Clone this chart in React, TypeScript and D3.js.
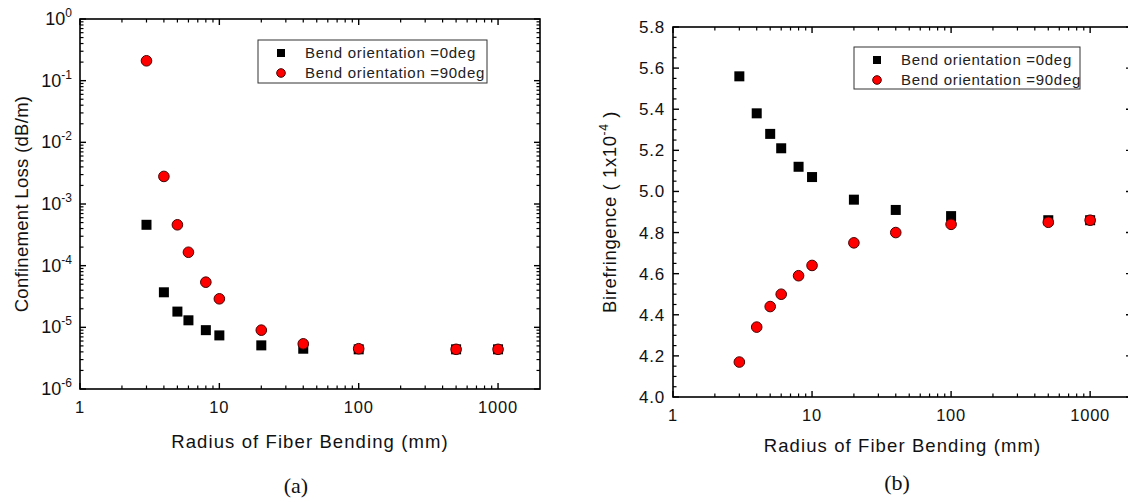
import React from 'react';
import * as d3 from 'd3';

// bend radius (mm), shared by both panels
const radius = [3, 4, 5, 6, 8, 10, 20, 40, 100, 500, 1000];
// (a) confinement loss, dB/m
const lossDeg0 = [4.6e-4, 3.7e-5, 1.8e-5, 1.3e-5, 9.0e-6, 7.4e-6, 5.1e-6, 4.5e-6, 4.4e-6, 4.4e-6, 4.4e-6];
const lossDeg90 = [0.21, 2.8e-3, 4.6e-4, 1.65e-4, 5.4e-5, 2.9e-5, 9.0e-6, 5.4e-6, 4.5e-6, 4.4e-6, 4.4e-6];
// (b) birefringence, 1x10^-4
const biDeg0 = [5.56, 5.38, 5.28, 5.21, 5.12, 5.07, 4.96, 4.91, 4.88, 4.86, 4.86];
const biDeg90 = [4.17, 4.34, 4.44, 4.5, 4.59, 4.64, 4.75, 4.8, 4.84, 4.85, 4.86];

const xTicks = [1, 10, 100, 1000];
const lossExps = [0, -1, -2, -3, -4, -5, -6];
const biTicks = [4.0, 4.2, 4.4, 4.6, 4.8, 5.0, 5.2, 5.4, 5.6, 5.8];
const legendLabels = ['Bend orientation =0deg', 'Bend orientation =90deg'];

const SANS = '"Liberation Sans", Arial, sans-serif';
const SERIF = '"Liberation Serif", "Times New Roman", serif';

// minor ticks on a log axis: 2..9 times each decade
const logMinors = (lo: number, hi: number) => {
  const out: number[] = [];
  for (let e = Math.floor(Math.log10(lo)); e < Math.ceil(Math.log10(hi)); e++) {
    for (let k = 2; k <= 9; k++) {
      const v = k * Math.pow(10, e);
      if (v > lo && v < hi) out.push(v);
    }
  }
  return out;
};

const Square = ({ x, y, s }: { x: number; y: number; s: number }) => (
  <rect x={x - s / 2} y={y - s / 2} width={s} height={s} fill="#000" />
);
const Dot = ({ x, y, r }: { x: number; y: number; r: number }) => (
  <circle cx={x} cy={y} r={r} fill="#ff0000" stroke="#4a0000" strokeWidth={1} />
);

type PanelProps = {
  x0: number; x1: number; y0: number; y1: number;
  y: any; logY: boolean;
  d0: number[]; d90: number[];
  legend: { x: number; y: number; w: number; h: number };
  yTitle: React.ReactNode; yTitleX: number; yTitleSpacing: number;
  letter: string; letterX: number; letterY: number; xTitleY: number;
};

const Panel = (p: PanelProps) => {
  const x = d3.scaleLog().domain([1, 2000]).range([p.x0, p.x1]);
  const xMin = logMinors(1, 2000);
  const yMajor = p.logY ? lossExps.map((e) => Math.pow(10, e)) : biTicks;
  const yMinor = p.logY
    ? logMinors(1e-6, 1)
    : d3.range(4.05, 5.8, 0.05).filter((v) => Math.abs(v * 5 - Math.round(v * 5)) > 0.01);
  const L = 6, l = 3.5;
  return (
    <g>
      {/* frame */}
      <rect x={p.x0} y={p.y1} width={p.x1 - p.x0} height={p.y0 - p.y1} fill="none" stroke="#000" strokeWidth={1.6} />
      {/* x ticks top and bottom */}
      {xTicks.map((t) => (
        <g key={'xt' + t}>
          <line x1={x(t)} x2={x(t)} y1={p.y0} y2={p.y0 - L} stroke="#000" strokeWidth={1.4} />
          <line x1={x(t)} x2={x(t)} y1={p.y1} y2={p.y1 + L} stroke="#000" strokeWidth={1.4} />
          <text x={x(t)} y={p.y0 + 24} textAnchor="middle" fontFamily={SANS} fontSize={16.5} letterSpacing={0.8} fill="#111">{t}</text>
        </g>
      ))}
      {xMin.map((t) => (
        <g key={'xm' + t}>
          <line x1={x(t)} x2={x(t)} y1={p.y0} y2={p.y0 - l} stroke="#000" strokeWidth={1.2} />
          <line x1={x(t)} x2={x(t)} y1={p.y1} y2={p.y1 + l} stroke="#000" strokeWidth={1.2} />
        </g>
      ))}
      {/* y ticks left and right */}
      {yMajor.map((t, i) => (
        <g key={'yt' + i}>
          <line x1={p.x0} x2={p.x0 + L} y1={p.y(t)} y2={p.y(t)} stroke="#000" strokeWidth={1.4} />
          <line x1={p.x1} x2={p.x1 - L} y1={p.y(t)} y2={p.y(t)} stroke="#000" strokeWidth={1.4} />
          {p.logY ? (
            <text x={p.x0 - 8} y={p.y(t) + 6} textAnchor="end" fontFamily={SANS} fontSize={18} fill="#111">
              10<tspan dy={-8} fontSize={12}>{lossExps[i]}</tspan>
            </text>
          ) : (
            <text x={p.x0 - 8} y={p.y(t) + 6} textAnchor="end" fontFamily={SANS} fontSize={17} letterSpacing={0.8} fill="#111">
              {t.toFixed(1)}
            </text>
          )}
        </g>
      ))}
      {yMinor.map((t, i) => (
        <g key={'ym' + i}>
          <line x1={p.x0} x2={p.x0 + l} y1={p.y(t)} y2={p.y(t)} stroke="#000" strokeWidth={1.2} />
          <line x1={p.x1} x2={p.x1 - l} y1={p.y(t)} y2={p.y(t)} stroke="#000" strokeWidth={1.2} />
        </g>
      ))}
      {/* data */}
      {radius.map((r, i) => <Square key={'s' + i} x={x(r)} y={p.y(p.d0[i])} s={10} />)}
      {radius.map((r, i) => <Dot key={'c' + i} x={x(r)} y={p.y(p.d90[i])} r={5.3} />)}
      {/* legend */}
      <rect x={p.legend.x} y={p.legend.y} width={p.legend.w} height={p.legend.h} fill="#fff" stroke="#333" strokeWidth={1} />
      {legendLabels.map((lab, i) => {
        const ly = p.legend.y + 13 + i * 20;
        return (
          <g key={lab}>
            {i === 0 ? <Square x={p.legend.x + 23} y={ly} s={8} /> : <Dot x={p.legend.x + 23} y={ly} r={4.3} />}
            <text x={p.legend.x + 47} y={ly + 5} fontFamily={SANS} fontSize={15} letterSpacing={0.7} fill="#222">{lab}</text>
          </g>
        );
      })}
      {/* titles */}
      <text x={(p.x0 + p.x1) / 2} y={p.xTitleY} textAnchor="middle" fontFamily={SANS} fontSize={18.5} letterSpacing={1.1} fill="#111">
        Radius of Fiber Bending (mm)
      </text>
      <text transform={`translate(${p.yTitleX},${(p.y0 + p.y1) / 2}) rotate(-90)`} textAnchor="middle" fontFamily={SANS} fontSize={18.5} letterSpacing={p.yTitleSpacing} fill="#111">
        {p.yTitle}
      </text>
      <text x={p.letterX} y={p.letterY} textAnchor="middle" fontFamily={SERIF} fontSize={22} fill="#111">{p.letter}</text>
    </g>
  );
};

export default function App() {
  const yLoss = d3.scaleLog().domain([1e-6, 1]).range([389, 19]);
  const yBi = d3.scaleLinear().domain([4.0, 5.8]).range([397, 27]);
  return (
    <svg width={1128} height={502} style={{ position: 'absolute', left: 0, top: 0, background: '#fff' }}>
      <rect width={1128} height={502} fill="#fff" />
      <Panel
        x0={80} x1={540} y0={389} y1={19} y={yLoss} logY={true}
        d0={lossDeg0} d90={lossDeg90}
        legend={{ x: 258, y: 40, w: 229, h: 43 }}
        yTitle="Confinement Loss (dB/m)" yTitleX={28} yTitleSpacing={0.3}
        letter="(a)" letterX={296} letterY={493} xTitleY={448}
      />
      <Panel
        x0={673} x1={1132} y0={397} y1={27} y={yBi} logY={false}
        d0={biDeg0} d90={biDeg90}
        legend={{ x: 854, y: 47, w: 226, h: 42 }}
        yTitle={<>
          <tspan>Birefringence ( 1x10</tspan>
          <tspan dy={-8} fontSize={12}>-4</tspan>
          <tspan dy={8}>{' )'}</tspan>
        </>}
        yTitleX={616} yTitleSpacing={0.6}
        letter="(b)" letterX={897} letterY={490} xTitleY={452}
      />
    </svg>
  );
}
